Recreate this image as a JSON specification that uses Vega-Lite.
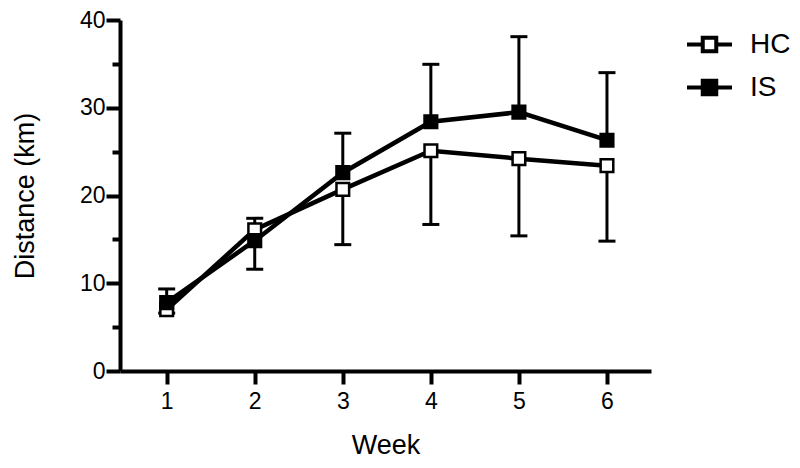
{
  "$schema": "https://vega.github.io/schema/vega-lite/v6.json",
  "width": 531,
  "height": 351,
  "autosize": "none",
  "padding": {"left": 120, "top": 20, "right": 149, "bottom": 97},
  "background": "white",
  "config": {
    "view": {"stroke": null},
    "font": "Liberation Sans",
    "axis": {
      "grid": false,
      "domainColor": "black",
      "domainWidth": 4,
      "tickColor": "black",
      "tickWidth": 4,
      "labelColor": "black",
      "labelFont": "Liberation Sans",
      "labelFontSize": 23,
      "titleFont": "Liberation Sans",
      "titleFontSize": 27,
      "titleFontWeight": "normal",
      "titleColor": "black"
    }
  },
  "data": {
    "values": [
      {"week": 1, "series": "HC", "mean": 7.0, "err": 6.6},
      {"week": 2, "series": "HC", "mean": 16.1, "err": 11.6},
      {"week": 3, "series": "HC", "mean": 20.7, "err": 14.4},
      {"week": 4, "series": "HC", "mean": 25.1, "err": 16.7},
      {"week": 5, "series": "HC", "mean": 24.2, "err": 15.4},
      {"week": 6, "series": "HC", "mean": 23.4, "err": 14.8},
      {"week": 1, "series": "IS", "mean": 7.8, "err": 9.35},
      {"week": 2, "series": "IS", "mean": 14.85, "err": 17.4},
      {"week": 3, "series": "IS", "mean": 22.6, "err": 27.1},
      {"week": 4, "series": "IS", "mean": 28.4, "err": 34.95},
      {"week": 5, "series": "IS", "mean": 29.5, "err": 38.1},
      {"week": 6, "series": "IS", "mean": 26.3, "err": 34.0}
    ]
  },
  "encoding": {
    "x": {
      "field": "week",
      "type": "quantitative",
      "scale": {"domain": [0.47, 6.5], "nice": false, "zero": false},
      "axis": {"values": [1, 2, 3, 4, 5, 6], "title": "Week", "tickSize": 13, "labelPadding": 6, "titlePadding": 19, "format": "d"}
    }
  },
  "resolve": {"axis": {"y": "independent"}},
  "layer": [
    {
      "mark": {"type": "rule", "color": "black", "strokeWidth": 3},
      "encoding": {
        "y": {
          "field": "mean",
          "type": "quantitative",
          "scale": {"domain": [0, 40], "nice": false},
          "axis": {
            "orient": "left",
            "values": [0, 10, 20, 30, 40],
            "title": "Distance (km)",
            "tickSize": 14,
            "labelPadding": 1,
            "titlePadding": 40
          }
        },
        "y2": {"field": "err"}
      }
    },
    {
      "mark": {"type": "tick", "orient": "horizontal", "color": "black", "size": 17, "thickness": 3, "opacity": 1},
      "encoding": {
        "y": {
          "field": "err",
          "type": "quantitative",
          "axis": {
            "orient": "left",
            "values": [5, 15, 25, 35],
            "labels": false,
            "domain": false,
            "title": null,
            "tickSize": 8
          }
        }
      }
    },
    {
      "mark": {"type": "line", "color": "black", "strokeWidth": 4.5},
      "encoding": {
        "y": {"field": "mean", "type": "quantitative", "axis": null},
        "detail": {"field": "series"}
      }
    },
    {
      "mark": {"type": "point", "shape": "square", "size": 160, "stroke": "black", "strokeWidth": 2.5, "opacity": 1, "filled": false},
      "encoding": {
        "y": {"field": "mean", "type": "quantitative", "axis": null},
        "fill": {
          "field": "series",
          "type": "nominal",
          "scale": {"domain": ["HC", "IS"], "range": ["white", "black"]},
          "legend": {
            "title": null,
            "orient": "none",
            "legendX": 565,
            "legendY": 0,
            "padding": 0,
            "symbolType": "M-1,0H-0.3M0.3,0H1M-0.3,-0.3H0.3V0.3H-0.3Z",
            "symbolSize": 2025,
            "symbolStrokeColor": "black",
            "symbolStrokeWidth": 4,
            "symbolOpacity": 1,
            "labelFont": "Liberation Sans",
            "labelFontSize": 28,
            "labelColor": "black",
            "labelOffset": 16,
            "rowPadding": 3
          }
        }
      }
    }
  ]
}
